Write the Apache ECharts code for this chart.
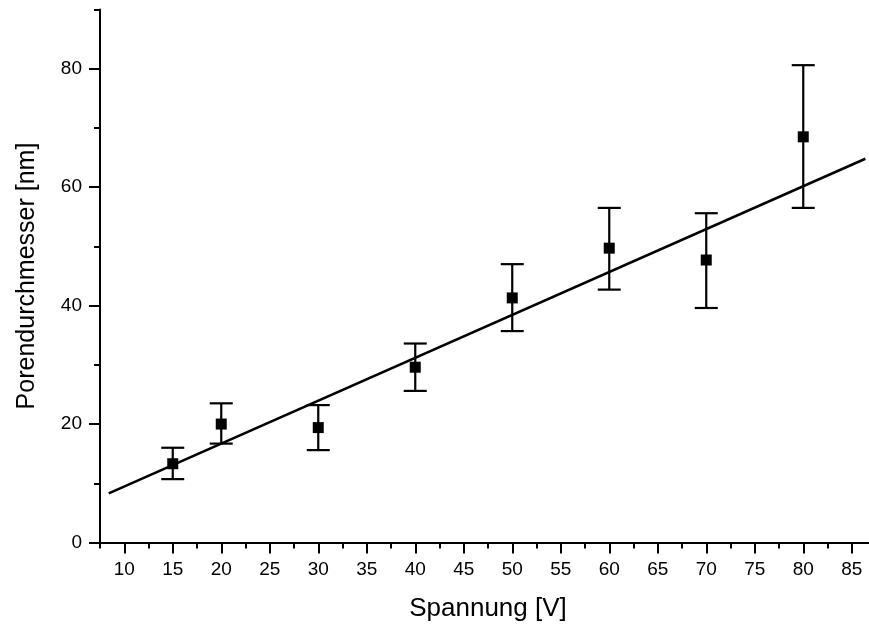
<!DOCTYPE html>
<html>
  <head>
    <meta charset="utf-8" />
    <title>Porendurchmesser</title>
  </head>
  <body style="margin:0">
    <script src="https://cdn.jsdelivr.net/npm/echarts@6/dist/echarts.min.js"></script>

    <div id="container" style="width: 869px;height: 632px;"></div>

    <script type="text/javascript">
    var voltage = [15, 20, 30, 40, 50, 60, 70, 80];
    var diameter = [13.3, 20.0, 19.4, 29.6, 41.3, 49.7, 47.7, 68.5];
    var errLow = [10.7, 16.7, 15.6, 25.6, 35.7, 42.7, 39.6, 56.5];
    var errHigh = [16.0, 23.5, 23.2, 33.6, 47.0, 56.5, 55.6, 80.6];

    // lineare Anpassung, Endpunkte
    var fitX = [8.4, 86.4];
    var fitY = [8.3, 64.8];

    // Achsenteilung
    var xTicks = [10, 15, 20, 25, 30, 35, 40, 45, 50, 55, 60, 65, 70, 75, 80, 85];
    var xMinorTicks = [7.5, 12.5, 17.5, 22.5, 27.5, 32.5, 37.5, 42.5, 47.5, 52.5, 57.5, 62.5, 67.5, 72.5, 77.5, 82.5];
    var yTicks = [0, 20, 40, 60, 80];
    var yMinorTicks = [10, 30, 50, 70, 90];

    var font = 'Liberation Sans, Arial, sans-serif';
    var black = '#000';

    var points = voltage.map(function (v, i) { return [v, diameter[i]]; });
    var errors = voltage.map(function (v, i) { return [v, errLow[i], errHigh[i]]; });
    var fit = fitX.map(function (v, i) { return [v, fitY[i]]; });

    var myChart = echarts.init(document.getElementById('container'));
    var option = {
      animation: false,
      backgroundColor: '#fff',
      grid: { left: 100, top: 9.5, width: 776, height: 533, outerBoundsMode: 'none', containLabel: false },
      xAxis: [
        {
          type: 'value', min: 7.5, max: 87.5,
          name: 'Spannung [V]', nameLocation: 'middle', nameGap: 53,
          nameTextStyle: { color: black, fontFamily: font, fontSize: 26 },
          axisLine: { lineStyle: { color: black, width: 2 } },
          axisTick: { customValues: xTicks, length: 11, lineStyle: { color: black, width: 2 } },
          axisLabel: { customValues: xTicks, color: black, fontFamily: font, fontSize: 19, margin: 18 },
          splitLine: { show: false }
        },
        {
          type: 'value', min: 7.5, max: 87.5, position: 'bottom',
          axisLine: { show: false },
          axisTick: { customValues: xMinorTicks, length: 6, lineStyle: { color: black, width: 2 } },
          axisLabel: { show: false },
          splitLine: { show: false }
        }
      ],
      yAxis: [
        {
          type: 'value', min: 0, max: 90,
          name: 'Porendurchmesser [nm]', nameLocation: 'middle', nameGap: 60,
          nameTextStyle: { color: black, fontFamily: font, fontSize: 25 },
          axisLine: { show: true, lineStyle: { color: black, width: 2 } },
          axisTick: { show: true, customValues: yTicks, length: 11, lineStyle: { color: black, width: 2 } },
          axisLabel: { customValues: yTicks, color: black, fontFamily: font, fontSize: 19, margin: 18 },
          splitLine: { show: false }
        },
        {
          type: 'value', min: 0, max: 90, position: 'left',
          axisLine: { show: false },
          axisTick: { show: true, customValues: yMinorTicks, length: 6, lineStyle: { color: black, width: 2 } },
          axisLabel: { show: false },
          splitLine: { show: false }
        }
      ],
      series: [
        {
          type: 'line',
          data: fit,
          symbol: 'none',
          lineStyle: { color: black, width: 2.5 },
          z: 2
        },
        {
          type: 'custom',
          data: errors,
          renderItem: function (params, api) {
            var x = api.value(0);
            var top = api.coord([x, api.value(2)]);
            var bot = api.coord([x, api.value(1)]);
            var half = 11.5;
            var st = { stroke: black, lineWidth: 2.2, fill: null };
            return {
              type: 'group',
              children: [
                { type: 'line', shape: { x1: top[0], y1: top[1], x2: bot[0], y2: bot[1] }, style: st },
                { type: 'line', shape: { x1: top[0] - half, y1: top[1], x2: top[0] + half, y2: top[1] }, style: st },
                { type: 'line', shape: { x1: bot[0] - half, y1: bot[1], x2: bot[0] + half, y2: bot[1] }, style: st }
              ]
            };
          },
          z: 3
        },
        {
          type: 'scatter',
          data: points,
          symbol: 'rect',
          symbolSize: 11,
          itemStyle: { color: black, opacity: 1 },
          z: 4
        }
      ]
    };
    myChart.setOption(option);

    window.addEventListener('resize', myChart.resize);
    </script>
  </body>
</html>
